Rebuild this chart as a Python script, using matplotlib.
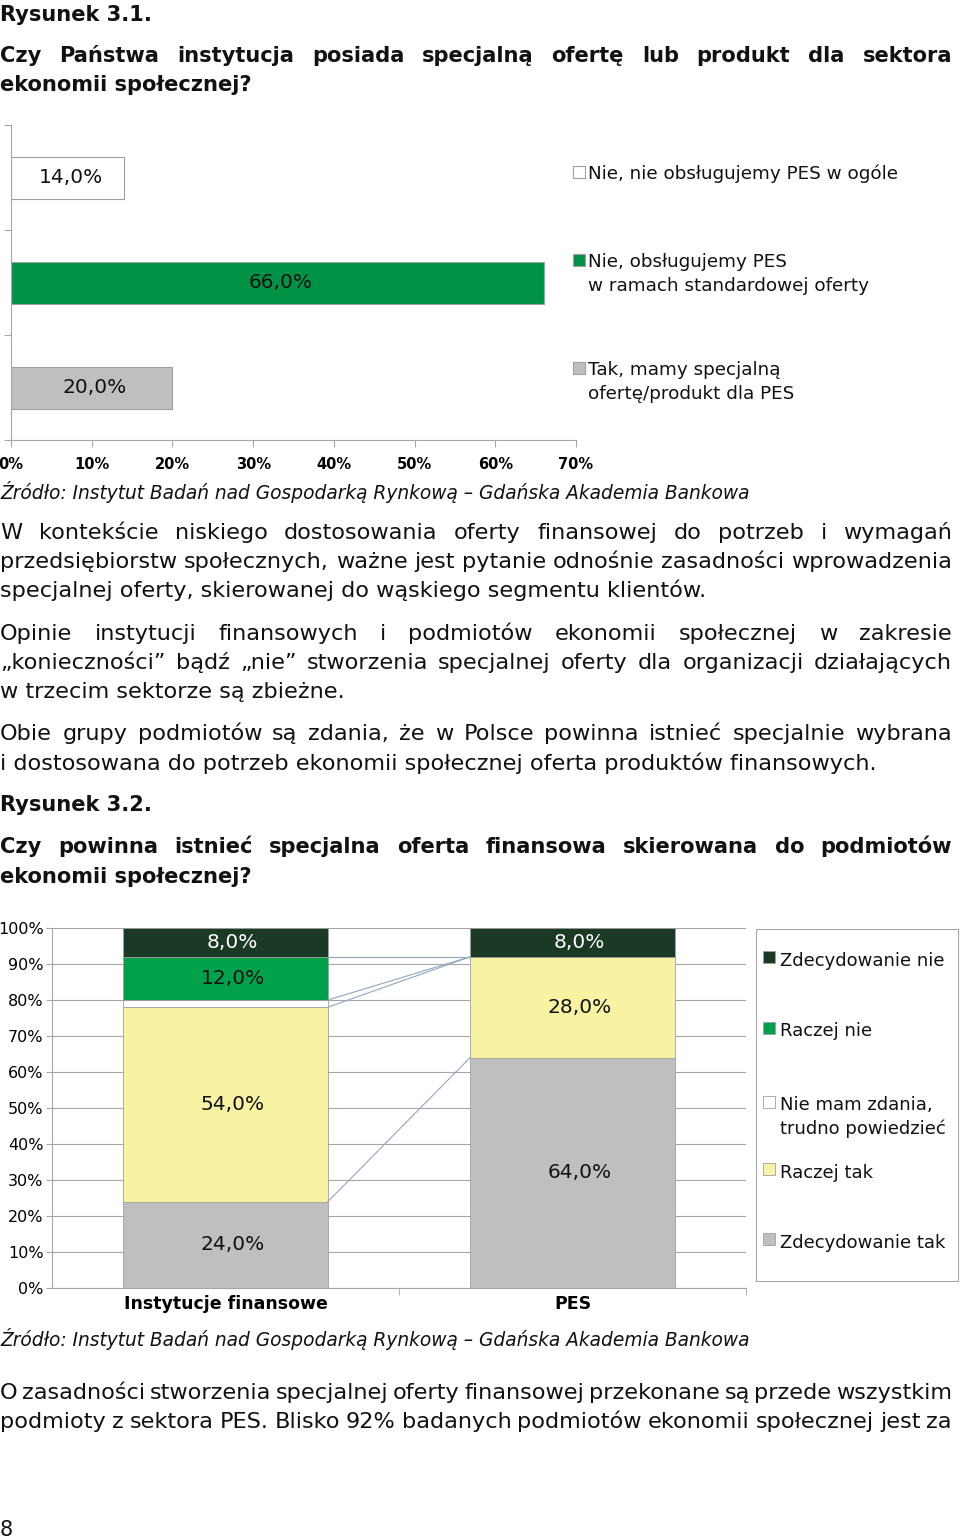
import matplotlib
matplotlib.use("Agg")
import matplotlib.pyplot as plt
from matplotlib.patches import Rectangle

# ── Data ──────────────────────────────────────────────────────────────────────
# Rysunek 3.1 (bars listed bottom -> top)
cats1 = ["Tak, mamy specjalną\nofertę/produkt dla PES",
         "Nie, obsługujemy PES\nw ramach standardowej oferty",
         "Nie, nie obsługujemy PES w ogóle"]
vals1 = [20.0, 66.0, 14.0]
colors1 = ["#bfbfbf", "#009245", "#ffffff"]
xticks1 = [0, 10, 20, 30, 40, 50, 60, 70]

# Rysunek 3.2 (stacked, bottom -> top)
groups2 = ["Instytucje finansowe", "PES"]
series2 = ["Zdecydowanie tak", "Raczej tak", "Nie mam zdania,\ntrudno powiedzieć",
           "Raczej nie", "Zdecydowanie nie"]
zdec_tak   = [24.0, 64.0]
raczej_tak = [54.0, 28.0]
nie_wiem   = [2.0, 0.0]
raczej_nie = [12.0, 0.0]
zdec_nie   = [8.0, 8.0]
colors2 = ["#bfbfbf", "#f7f3a3", "#ffffff", "#00a14b", "#1b3a26"]
yticks2 = list(range(0, 101, 10))

SOURCE = "Źródło: Instytut Badań nad Gospodarką Rynkową – Gdańska Akademia Bankowa"

# ── Page setup ────────────────────────────────────────────────────────────────
W, H = 960, 1540
plt.rcParams["font.family"] = ["DejaVu Sans"]
fig = plt.figure(figsize=(W / 100, H / 100), dpi=100)
page = fig.add_axes([0, 0, 1, 1])
page.set_xlim(0, W)
page.set_ylim(H, 0)
page.axis("off")
page.patch.set_alpha(0)
renderer = fig.canvas.get_renderer()

BODY = dict(fontsize=16.1, color="#111111")
BOLD = dict(fontsize=15.1, fontweight="bold", color="#111111")
SRC = dict(fontsize=13.4, style="italic", color="#111111")


def ptext(x, y, s, fontsize=14, **kw):
    # y = visual middle of the line; put baseline half a cap height lower
    base = y + 0.36 * fontsize * 100 / 72
    return page.text(x, base, s, ha="left", va="baseline", fontsize=fontsize, **kw)


def line(y, text, justify=False, x0=0, x1=952, **kw):
    if not justify:
        ptext(x0, y, text, **kw)
        return
    words = text.split(" ")
    arts = [ptext(0, y, w, **kw) for w in words]
    widths = [a.get_window_extent(renderer).width for a in arts]
    gap = (x1 - x0 - sum(widths)) / (len(words) - 1)
    x = x0
    for a, w in zip(arts, widths):
        a.set_x(x)
        x += w + gap


def ax_px(l, t, r, b):
    return fig.add_axes([l / W, 1 - b / H, (r - l) / W, (b - t) / H])


def pct(v):
    return f"{v:.1f}%".replace(".", ",")


# ── Text blocks ───────────────────────────────────────────────────────────────
line(13, "Rysunek 3.1.", **BOLD)
line(54, "Czy Państwa instytucja posiada specjalną ofertę lub produkt dla sektora", True, **BOLD)
line(83, "ekonomii społecznej?", **BOLD)

line(492, SOURCE, **SRC)

line(531, "W kontekście niskiego dostosowania oferty finansowej do potrzeb i wymagań", True, **BODY)
line(560, "przedsiębiorstw społecznych, ważne jest pytanie odnośnie zasadności wprowadzenia", True, **BODY)
line(589, "specjalnej oferty, skierowanej do wąskiego segmentu klientów.", **BODY)

line(632, "Opinie instytucji finansowych i podmiotów ekonomii społecznej w zakresie", True, **BODY)
line(661, "„konieczności” bądź „nie” stworzenia specjalnej oferty dla organizacji działających", True, **BODY)
line(690, "w trzecim sektorze są zbieżne.", **BODY)

line(732, "Obie grupy podmiotów są zdania, że w Polsce powinna istnieć specjalnie wybrana", True, **BODY)
line(762, "i dostosowana do potrzeb ekonomii społecznej oferta produktów finansowych.", **BODY)

line(803, "Rysunek 3.2.", **BOLD)
line(845, "Czy powinna istnieć specjalna oferta finansowa skierowana do podmiotów", True, **BOLD)
line(875, "ekonomii społecznej?", **BOLD)

line(1339, SOURCE, **SRC)

line(1391, "O zasadności stworzenia specjalnej oferty finansowej przekonane są przede wszystkim", True, **BODY)
line(1420, "podmioty z sektora PES. Blisko 92% badanych podmiotów ekonomii społecznej jest za", True, **BODY)

line(1528, "8", fontsize=15, color="#111111")

# ── Chart 3.1: horizontal bars ────────────────────────────────────────────────
AX_GREY = "#a6a6a6"
ax1 = ax_px(11, 125, 576, 440)
ypos = list(range(len(vals1)))
ax1.barh(ypos, vals1, height=0.4, color=colors1, edgecolor="#a0a0a0", linewidth=0.8)
for y, v in zip(ypos, vals1):
    ax1.text(v / 2 + 0.4, y, pct(v), ha="center", va="center", fontsize=14.5, color="#111111")
ax1.set_xlim(0, 70)
ax1.set_ylim(-0.5, 2.5)
ax1.set_xticks(xticks1)
ax1.set_xticklabels([f"{t}%" for t in xticks1], fontsize=10.5, fontweight="bold")
ax1.set_yticks([-0.5, 0.5, 1.5, 2.5])
ax1.set_yticklabels([])
ax1.tick_params(axis="both", direction="out", length=5, color=AX_GREY, width=0.8)
ax1.tick_params(axis="x", pad=7)
for s in ["top", "right"]:
    ax1.spines[s].set_visible(False)
for s in ["left", "bottom"]:
    ax1.spines[s].set_color(AX_GREY)
    ax1.spines[s].set_linewidth(0.8)
ax1.patch.set_alpha(0)

# legend 3.1
leg_y = [368, 260, 172]
for cat, col, y in zip(cats1, colors1, leg_y):
    page.add_patch(Rectangle((573, y - 6), 12, 12, facecolor=col, edgecolor="#a0a0a0", lw=0.8))
    for k, txt in enumerate(cat.split("\n")):
        ptext(588, y + 24 * k, txt, fontsize=13.2, color="#111111")

# ── Chart 3.2: 100% stacked columns ───────────────────────────────────────────
ax2 = ax_px(52, 928, 746, 1288)
layers = [zdec_tak, raczej_tak, nie_wiem, raczej_nie, zdec_nie]
xg = [0, 1]
bw = 0.59
bottom = [0.0, 0.0]
tops = []
for name, vals, col in zip(series2, layers, colors2):
    ax2.bar(xg, vals, bw, bottom=bottom, color=col, edgecolor="#a0a0a0", linewidth=0.6, zorder=3)
    for x, v, b in zip(xg, vals, bottom):
        if v >= 5:
            tc = "white" if col == "#1b3a26" else "#111111"
            ax2.text(x + 0.02, b + v / 2, pct(v), ha="center", va="center",
                     fontsize=14.5, color=tc, zorder=5)
    bottom = [b + v for b, v in zip(bottom, vals)]
    tops.append(list(bottom))

# series lines between the columns
for t in tops[:-1]:
    ax2.plot([bw / 2, 1 - bw / 2], t, color="#8fa8bf", lw=0.8, zorder=4)

ax2.set_ylim(0, 100)
ax2.set_xlim(-0.5, 1.5)
ax2.set_yticks(yticks2)
ax2.set_yticklabels([f"{t}%" for t in yticks2], fontsize=11.5)
ax2.yaxis.grid(True, color=AX_GREY, lw=0.8, zorder=0)
ax2.set_axisbelow(True)
ax2.set_xticks(xg)
ax2.set_xticklabels(groups2, fontsize=12.5, fontweight="bold")
ax2.set_xticks([0.5, 1.5], minor=True)
ax2.tick_params(axis="x", which="major", length=0, pad=5)
ax2.tick_params(axis="x", which="minor", length=5, color=AX_GREY)
ax2.tick_params(axis="y", direction="out", length=4, color=AX_GREY, pad=2)
for s in ["top", "right"]:
    ax2.spines[s].set_visible(False)
for s in ["left", "bottom"]:
    ax2.spines[s].set_color(AX_GREY)
    ax2.spines[s].set_linewidth(0.8)
ax2.patch.set_alpha(0)

# legend 3.2
page.add_patch(Rectangle((756, 929), 202, 352, facecolor="white", edgecolor=AX_GREY, lw=0.8))
leg2_y = [1241, 1171, 1104, 1030, 959]
for name, col, y in zip(series2, colors2, leg2_y):
    page.add_patch(Rectangle((763, y - 8), 12, 12, facecolor=col, edgecolor="#a0a0a0", lw=0.6))
    for k, txt in enumerate(name.split("\n")):
        ptext(780, y + 24 * k, txt, fontsize=13, color="#111111")

fig.savefig("out.png", dpi=100)
